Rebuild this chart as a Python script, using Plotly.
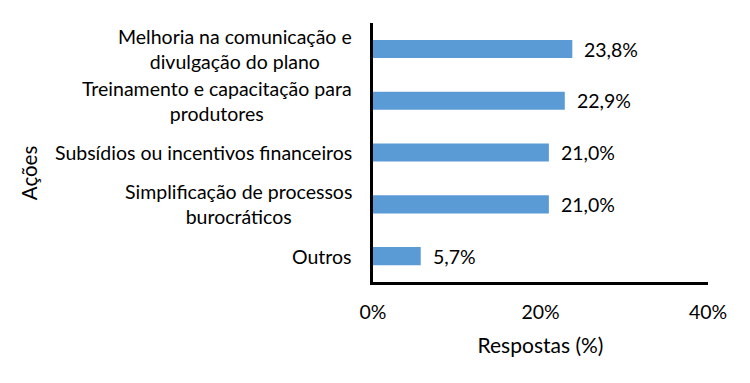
import plotly.graph_objects as go

categories = [
    "Melhoria na comunicação e<br>divulgação do plano",
    "Treinamento e capacitação para<br>produtores",
    "Subsídios ou incentivos financeiros",
    "Simplificação de processos<br>burocráticos",
    "Outros",
]
values = [23.8, 22.9, 21.0, 21.0, 5.7]
labels = ["23,8%", "22,9%", "21,0%", "21,0%", "5,7%"]
x_ticks = [0, 20, 40]
x_tick_labels = ["0%", "20%", "40%"]

FONT = "Lato"
FS = 19.5
fig = go.Figure()
fig.add_trace(go.Bar(
    y=categories, x=values, orientation="h",
    marker=dict(color="#5B9BD5", line=dict(width=0)),
    width=0.35, hoverinfo="skip",
))
for c, v, t in zip(categories, values, labels):
    fig.add_annotation(x=v, y=c, text=t, showarrow=False, xanchor="left",
                       xshift=10, font=dict(family=FONT, size=FS, color="#000"))
for c in categories:
    fig.add_annotation(x=0, xref="paper", y=c, text=c, showarrow=False,
                       xanchor="right", align="center", xshift=-19,
                       font=dict(family=FONT, size=FS, color="#000"))

fig.add_annotation(text="Ações", xref="paper", yref="paper", x=0, xshift=-344,
                   xanchor="center", yanchor="middle",
                   y=0.42, textangle=-90, showarrow=False,
                   font=dict(family=FONT, size=20.5, color="#000"))

fig.update_layout(
    width=734, height=367,
    margin=dict(l=365, r=34, t=15, b=93),
    plot_bgcolor="white", paper_bgcolor="white",
    showlegend=False,
    font=dict(family=FONT, size=FS, color="#000"),
    xaxis=dict(range=[0, 40], tickvals=x_ticks, ticktext=x_tick_labels,
               showgrid=False, zeroline=False, showline=True, linecolor="black",
               linewidth=3, ticks="", ticklabelstandoff=11, automargin=False,
               title=dict(text="Respostas (%)", standoff=16, font=dict(size=21))),
    yaxis=dict(categoryorder="array", categoryarray=categories[::-1],
               showgrid=False, zeroline=False, showline=True, linecolor="black",
               linewidth=3, ticks="", showticklabels=False, automargin=False),
)
fig.write_html("out.html")
